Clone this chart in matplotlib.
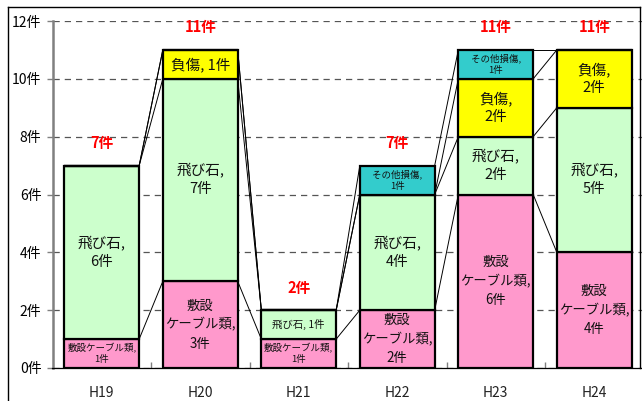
import numpy as np
import matplotlib
matplotlib.use("Agg")
import matplotlib.pyplot as plt
from matplotlib.lines import Line2D

plt.rcParams['font.family'] = ['Noto Sans CJK JP', 'DejaVu Sans']

years = ['H19', 'H20', 'H21', 'H22', 'H23', 'H24']
cable = [1, 3, 1, 2, 6, 4]    # 敷設ケーブル類
stone = [6, 7, 1, 4, 2, 5]    # 飛び石
injury = [0, 1, 0, 0, 2, 2]   # 負傷
other = [0, 0, 0, 1, 1, 0]    # その他損傷

series = [cable, stone, injury, other]
names = ['敷設ケーブル類', '飛び石', '負傷', 'その他損傷']
colors = ['#FF99CC', '#CCFFCC', '#FFFF00', '#33CCCC']

fig = plt.figure(figsize=(6.42, 4.01), dpi=100)
W, H = 642, 401
ax = fig.add_axes([52.5 / W, (H - 368) / H, 591 / W, 347 / H])

x = np.arange(len(years))
w = 0.76
bottom = np.zeros(len(years))
tops = []
for k, vals in enumerate(series):
    vals = np.array(vals)
    ax.bar(x, vals, w, bottom=bottom, color=colors[k], edgecolor='black',
           linewidth=1.6, zorder=3)
    for i, v in enumerate(vals):
        if v == 0:
            continue
        yc = bottom[i] + v / 2
        ls = 1.35
        if k == 0 and v == 1:
            txt, fs = '敷設ケーブル類,\n1件', 6.8
        elif k == 0:
            txt, fs, ls = '敷設\nケーブル類,\n%d件' % v, 9.6, 1.45
        elif k == 1 and v == 1:
            txt, fs = '飛び石, 1件', 7.5
        elif k == 2 and v == 1:
            txt, fs = '負傷, 1件', 10.5
        elif k == 3:
            txt, fs = 'その他損傷,\n1件', 6.8
        else:
            txt, fs = '%s,\n%d件' % (names[k], v), 10.5
        ax.text(x[i], yc, txt, ha='center', va='center', fontsize=fs,
                linespacing=ls, color='#111111', zorder=5)
    bottom = bottom + vals
    tops.append(bottom.copy())

# series lines between bars
for c in tops:
    for i in range(len(years) - 1):
        ax.plot([x[i] + w / 2, x[i + 1] - w / 2], [c[i], c[i + 1]],
                color='black', linewidth=0.7, zorder=2)

# totals
for i, t in enumerate(bottom):
    ax.text(x[i], t + 0.78, '%d件' % t, ha='center', va='center',
            fontsize=10.5, fontweight='bold', color='#FF0000', zorder=5)

ax.set_xlim(-0.5, 5.5)
ax.set_ylim(0, 12)
ax.set_yticks(range(0, 13, 2))
ax.set_yticklabels(['%d件' % v for v in range(0, 13, 2)], fontsize=10)
ax.set_xticks(x)
ax.set_xticklabels(years, fontsize=10, color='#222222')
ax.set_xticks(np.arange(0.5, 5.5, 1), minor=True)
ax.tick_params(axis='x', which='major', length=0, pad=13)
ax.tick_params(axis='x', which='minor', direction='in', length=4,
               color='#808080', width=1)
ax.tick_params(axis='y', length=4, color='#808080', width=1, pad=4)

ax.yaxis.grid(True, linestyle=(0, (5, 4)), color='#555555', linewidth=0.9, zorder=0)
ax.set_axisbelow(True)
for s in ['top', 'right']:
    ax.spines[s].set_visible(False)
ax.spines['left'].set_color('#808080')
ax.spines['left'].set_linewidth(1.8)
ax.spines['bottom'].set_color('#000000')
ax.spines['bottom'].set_linewidth(0.9)

# outer chart border
def fl(x0, y0, x1, y1):
    fig.add_artist(Line2D([x0 / W, x1 / W], [1 - y0 / H, 1 - y1 / H],
                          color='black', linewidth=1.0))

fl(8, 7, 8, 401)
fl(8, 7, 640, 7)
fl(640, 7, 640, 368)

fig.savefig('out.png', dpi=100)
